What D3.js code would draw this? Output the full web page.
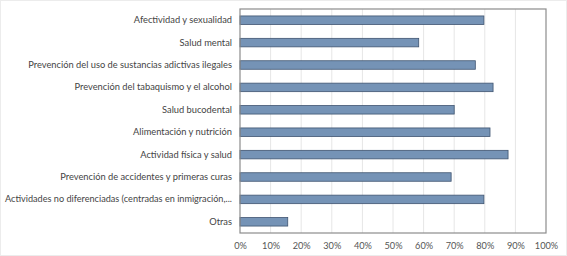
<!DOCTYPE html>
<html>
<head>
<meta charset="utf-8">
<script src="https://cdn.jsdelivr.net/npm/d3@7"></script>
<style>
  body { margin: 0; background: #fff; }
  svg text { font-family: Lato, "Open Sans", sans-serif; }
</style>
</head>
<body>
<div id="chart"></div>
<script>
// Categories, top to bottom
const categories = [
    "Afectividad y sexualidad",
    "Salud mental",
    "Prevención del uso de sustancias adictivas ilegales",
    "Prevención del tabaquismo y el alcohol",
    "Salud bucodental",
    "Alimentación y nutrición",
    "Actividad física y salud",
    "Prevención de accidentes y primeras curas",
    "Actividades no diferenciadas (centradas en inmigración,...",
    "Otras"
];
// Percentages
const values = [79.7, 58.4, 76.9, 82.7, 70.0, 81.7, 87.6, 69.0, 79.7, 15.6];
const tickValues = [0, 10, 20, 30, 40, 50, 60, 70, 80, 90, 100];

const W = 567, H = 256;
const margin = {top: 9, right: 21, bottom: 23, left: 240};
const width = W - margin.left - margin.right,
    height = H - margin.top - margin.bottom;

const root = d3.select("#chart").append("svg")
    .attr("width", W)
    .attr("height", H);

// light outer frame of the chart area
root.append("rect")
    .attr("x", 0.5).attr("y", 0.5)
    .attr("width", W - 1).attr("height", H - 1)
    .attr("fill", "none")
    .attr("stroke", "#ececec");

const svg = root.append("g")
    .attr("transform", `translate(${margin.left},${margin.top})`);

const x = d3.scaleLinear().domain([0, 100]).range([0, width]);
const y = d3.scaleBand().domain(categories).range([0, height]).paddingInner(0.62).paddingOuter(0.31);

// vertical gridlines
svg.selectAll(".grid")
    .data(tickValues.slice(1, -1))
    .enter()
    .append("line")
    .attr("x1", d => x(d)).attr("x2", d => x(d))
    .attr("y1", 0).attr("y2", height)
    .attr("stroke", "#e6e6e6")
    .attr("stroke-width", 1);

// bars
svg.selectAll(".bar")
    .data(values)
    .enter()
    .append("rect")
    .attr("class", "bar")
    .attr("x", x(0))
    .attr("y", (d, i) => y(categories[i]))
    .attr("width", d => x(d) - x(0))
    .attr("height", y.bandwidth())
    .attr("fill", "#7593b6")
    .attr("stroke", "#3f5470")
    .attr("stroke-width", 0.8);

// plot frame
svg.append("rect")
    .attr("x", 0).attr("y", 0)
    .attr("width", width).attr("height", height)
    .attr("fill", "none")
    .attr("stroke", "#8c8c8c")
    .attr("stroke-width", 1.2);

// x axis labels
const xAxis = svg.append("g")
    .attr("transform", `translate(0,${height})`)
    .call(d3.axisBottom(x).tickValues(tickValues).tickFormat(d => d + "%").tickSize(0).tickPadding(9));
xAxis.select(".domain").remove();
xAxis.selectAll("text")
    .attr("fill", "#555")
    .style("font-size", "9.2px");

// y axis labels
const yAxis = svg.append("g")
    .call(d3.axisLeft(y).tickSize(0).tickPadding(8));
yAxis.select(".domain").remove();
const maxLabel = margin.left - 8 - 5;
yAxis.selectAll("text")
    .attr("fill", "#444")
    .style("font-size", "9.3px")
    .each(function() {
        // squeeze labels that would run past the left edge
        if (this.getComputedTextLength() > maxLabel) {
            d3.select(this).attr("textLength", maxLabel).attr("lengthAdjust", "spacingAndGlyphs");
        }
    });
</script>
</body>
</html>
